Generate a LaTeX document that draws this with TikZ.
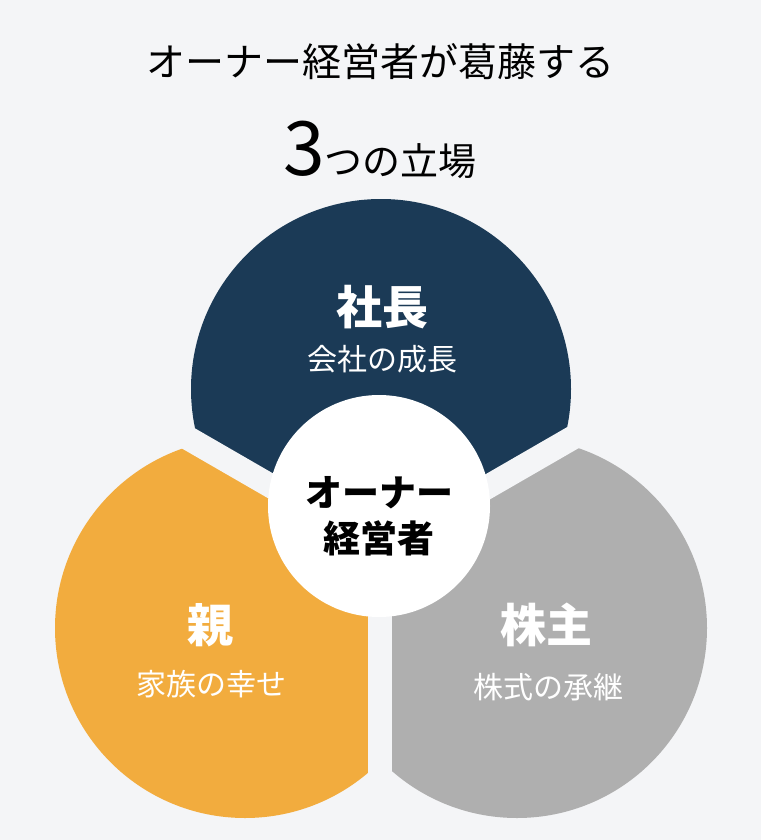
\documentclass[tikz,border=0pt]{standalone}
\usepackage{fontspec}
\setmainfont{Noto Sans CJK JP}
\usepackage{xcolor}
\usetikzlibrary{calc}
\definecolor{pageGray}{HTML}{F4F5F7}
\definecolor{bossNavy}{HTML}{1B3A56}
\definecolor{parentOrange}{HTML}{F2AC3E}
\definecolor{holderGray}{HTML}{AFAFAF}

\begin{document}
\begin{tikzpicture}[x=1pt, y=-1pt, style={line cap=butt},
    gapline/.style={draw=pageGray, line width=24pt},
    roleText/.style={anchor=base, text=white, font=\bfseries\fontsize{46}{46}\selectfont},
    goalText/.style={anchor=base, text=white, font=\fontsize{30}{30}\selectfont}]
  \fill[pageGray] (0,0) rectangle (761,840);
  \useasboundingbox (0,0) rectangle (761,840);
  \coordinate (mid) at (380,549);
  \coordinate (bossC) at (381,389);
  \coordinate (parentC) at (245,628);
  \coordinate (holderC) at (517,628);
  \begin{scope}
    \clip (mid) -- +(210:1000) -- +(330:1000) -- cycle;
    \fill[bossNavy] (bossC) circle (190pt);
  \end{scope}
  \begin{scope}
    \clip (mid) -- +(90:1000) -- +(210:1000) -- cycle;
    \fill[parentOrange] (parentC) circle (190pt);
  \end{scope}
  \begin{scope}
    \clip (mid) -- +(-30:1000) -- +(90:1000) -- cycle;
    \fill[holderGray] (holderC) circle (190pt);
  \end{scope}
  \draw[gapline] (mid) -- +(210:400);
  \draw[gapline] (mid) -- +(330:400);
  \draw[gapline] (mid) -- +(90:400);
  \fill[white] (379,506) circle (111pt);
  \node[anchor=base, font=\fontsize{39}{39}\selectfont] (heading) at (380,77) {オーナー経営者が葛藤する};
  \node[anchor=base, font=\fontsize{38}{38}\selectfont] (subhead) at (380,175) {{\fontsize{75}{75}\selectfont 3}つの立場};
  \node[roleText] (boss) at (382,324) {社長};
  \node[goalText] (bossGoal) at (382,370) {会社の成長};
  \node[anchor=base, font=\bfseries\fontsize{37}{37}\selectfont] (owner) at (379,506) {オーナー};
  \node[anchor=base, font=\bfseries\fontsize{37}{37}\selectfont] (ownerTwo) at (379,552) {経営者};
  \node[roleText] (parent) at (210,642) {親};
  \node[goalText] (parentGoal) at (211,695) {家族の幸せ};
  \node[roleText] (holder) at (546,642) {株主};
  \node[goalText] (holderGoal) at (548,698) {株式の承継};
\end{tikzpicture}
\end{document}
